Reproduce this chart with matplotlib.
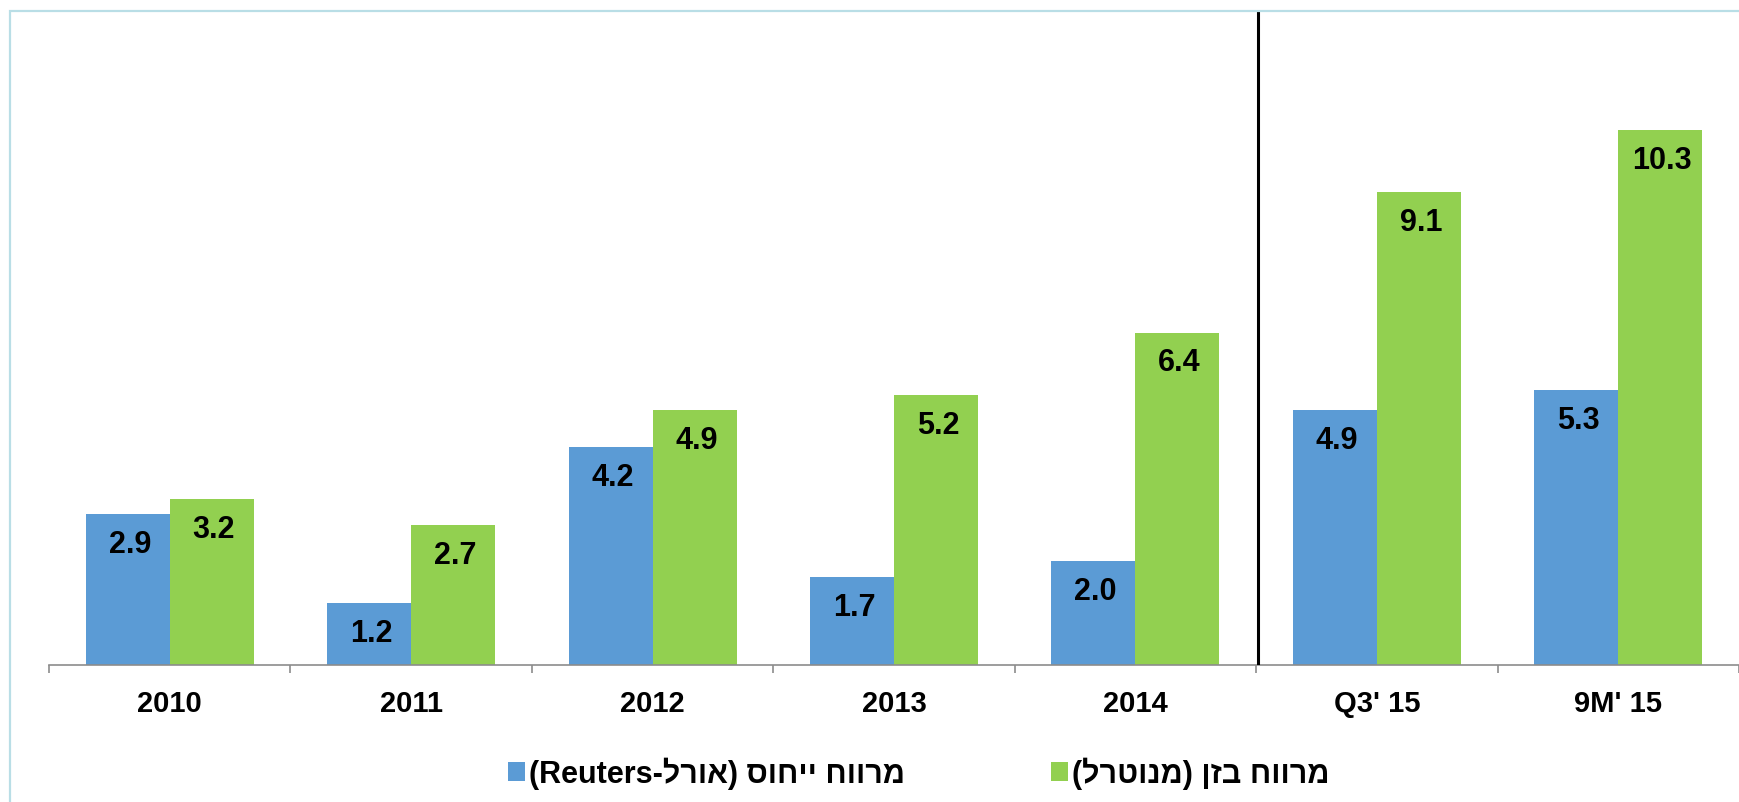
import matplotlib
matplotlib.use("Agg")
import matplotlib.pyplot as plt
from matplotlib.patches import Rectangle
import numpy as np

plt.rcParams['font.family'] = ['Liberation Sans', 'DejaVu Sans']

categories = ["2010", "2011", "2012", "2013", "2014", "Q3' 15", "9M' 15"]
reference_spread = [2.9, 1.2, 4.2, 1.7, 2.0, 4.9, 5.3]
neutral_spread = [3.2, 2.7, 4.9, 5.2, 6.4, 9.1, 10.3]
# Hebrew labels in visual (left-to-right) order for rendering
label_reference = "(Reuters-לרוא) סוחיי חוורמ"   # מרווח ייחוס (אורל-Reuters)
label_neutral = "(לרטונמ) ןזב חוורמ"             # מרווח בזן (מנוטרל)

blue = "#5B9BD5"
green = "#92D050"

W, H = 1740, 803
fig = plt.figure(figsize=(W / 100, H / 100), dpi=100)
fig.patch.set_facecolor("white")

# outer frame (light cyan)
fig.patches.append(Rectangle((10.5 / W, -0.2), 1.5, 1.2 - 11.5 / H,
                             transform=fig.transFigure, fill=False,
                             edgecolor="#B9DEE6", linewidth=1.6, zorder=0))

ax = fig.add_axes([49 / W, 1 - 666 / H, 1690 / W, (666 - 11) / H])
x = np.arange(len(categories))
bw = 0.348
b1 = ax.bar(x - bw / 2, reference_spread, width=bw, color=blue,
            label=label_reference, zorder=2)
b2 = ax.bar(x + bw / 2, neutral_spread, width=bw, color=green,
            label=label_neutral, zorder=2)

px_per_unit = 51.94
ax.set_ylim(0, (666 - 11) / px_per_unit)
ax.set_xlim(-0.5, len(categories) - 0.5)

for bars, vals in ((b1, reference_spread), (b2, neutral_spread)):
    for rect, v in zip(bars, vals):
        ax.annotate(f"{v:.1f}", xy=(rect.get_x() + rect.get_width() / 2, v),
                    xytext=(1.5, -21.5), textcoords="offset points",
                    ha="center", va="center", fontsize=22, fontweight="bold",
                    color="black", zorder=3)

# separator line
ax.axvline(4.5 + 0.006, color="black", linewidth=2.2, zorder=4)

for s in ("left", "right", "top"):
    ax.spines[s].set_visible(False)
ax.spines["bottom"].set_color("#8C8C8C")
ax.spines["bottom"].set_linewidth(1.2)
ax.set_yticks([])
ax.set_xticks(x)
ax.set_xticklabels(categories, fontsize=21, fontweight="bold")
ax.tick_params(axis="x", which="major", length=0, pad=17.5)
ax.set_xticks(np.arange(-0.5, len(categories)), minor=True)
ax.tick_params(axis="x", which="minor", length=6, width=1.2, color="#8C8C8C")

leg = fig.legend(handles=[b1, b2], loc="center", bbox_to_anchor=(0.528, 0.036),
                 ncol=2, frameon=False, columnspacing=4.8,
                 handlelength=0.55, handleheight=0.55, handletextpad=0.12,
                 prop={"weight": "bold", "size": 22})

fig.savefig("out.png", dpi=100, facecolor="white")
